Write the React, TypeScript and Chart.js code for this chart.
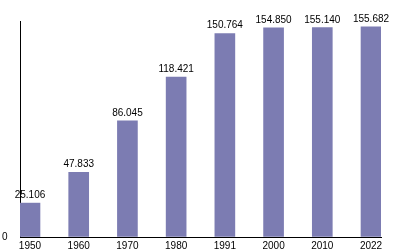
import React, { useEffect, useRef } from "react";
import { Chart, registerables } from "chart.js";

Chart.register(...registerables);

const years = ["1950", "1960", "1970", "1980", "1991", "2000", "2010", "2022"];
const population = [25.106, 47.833, 86.045, 118.421, 150.764, 154.85, 155.14, 155.682];
const valueLabels = ["25.106", "47.833", "86.045", "118.421", "150.764", "154.850", "155.140", "155.682"];

const FONT = "'Liberation Sans', Arial, sans-serif";

const labelPlugin = {
  id: "barLabels",
  afterDatasetsDraw(chart: any) {
    const ctx = chart.ctx;
    const meta = chart.getDatasetMeta(0);
    ctx.save();
    ctx.font = `10px ${FONT}`;
    ctx.fillStyle = "#000";
    ctx.textAlign = "center";
    ctx.textBaseline = "alphabetic";
    meta.data.forEach((bar: any, i: number) => {
      ctx.fillText(valueLabels[i], bar.x, bar.y - 5);
    });
    ctx.restore();
  },
};

export default function App() {
  const ref = useRef<HTMLCanvasElement>(null);
  useEffect(() => {
    if (!ref.current) return;
    const chart = new Chart(ref.current, {
      type: "bar",
      data: {
        datasets: [
          {
            data: population.map((v, i) => ({ x: i, y: v })),
            backgroundColor: "#7c7cb2",
            barThickness: 20,
          },
        ],
      },
      options: {
        animation: false,
        responsive: false,
        maintainAspectRatio: false,
        layout: { padding: { top: 21, right: 19, left: 2, bottom: 0 } },
        plugins: { legend: { display: false }, tooltip: { enabled: false } },
        scales: {
          x: {
            type: "linear",
            offset: false,
            min: -0.205,
            max: 7.205,
            grid: { display: true, drawOnChartArea: false, drawTicks: false, offset: false, color: "#000" },
            border: { display: true, color: "#000", width: 1 },
            afterBuildTicks: (s: any) => {
              s.ticks = years.map((_, i) => ({ value: i }));
            },
            ticks: {
              autoSkip: false,
              maxRotation: 0,
              padding: 3,
              color: "#000",
              font: { family: FONT, size: 10 },
              callback: (v: any) => (years[v] !== undefined ? years[v] : ""),
            },
            afterFit: (s: any) => {
              s.height = 13;
            },
          },
          y: {
            min: 0,
            max: 160,
            grid: { display: true, drawOnChartArea: false, drawTicks: false, color: "#000" },
            border: { display: true, color: "#000", width: 1 },
            afterBuildTicks: (s: any) => {
              s.ticks = [{ value: 0 }];
            },
            ticks: {
              padding: 0,
              crossAlign: "far",
              color: "#000",
              font: { family: FONT, size: 10 },
              callback: (v: any) => (v === 0 ? "0" : ""),
            },
            afterFit: (s: any) => {
              s.width = 18;
            },
          },
        },
      },
      plugins: [labelPlugin],
    });
    return () => chart.destroy();
  }, []);
  return (
    <div style={{ position: "fixed", left: 0, top: 0, width: 400, height: 250, background: "#fff" }}>
      <canvas ref={ref} width={400} height={250} style={{ width: 400, height: 250 }} />
    </div>
  );
}
